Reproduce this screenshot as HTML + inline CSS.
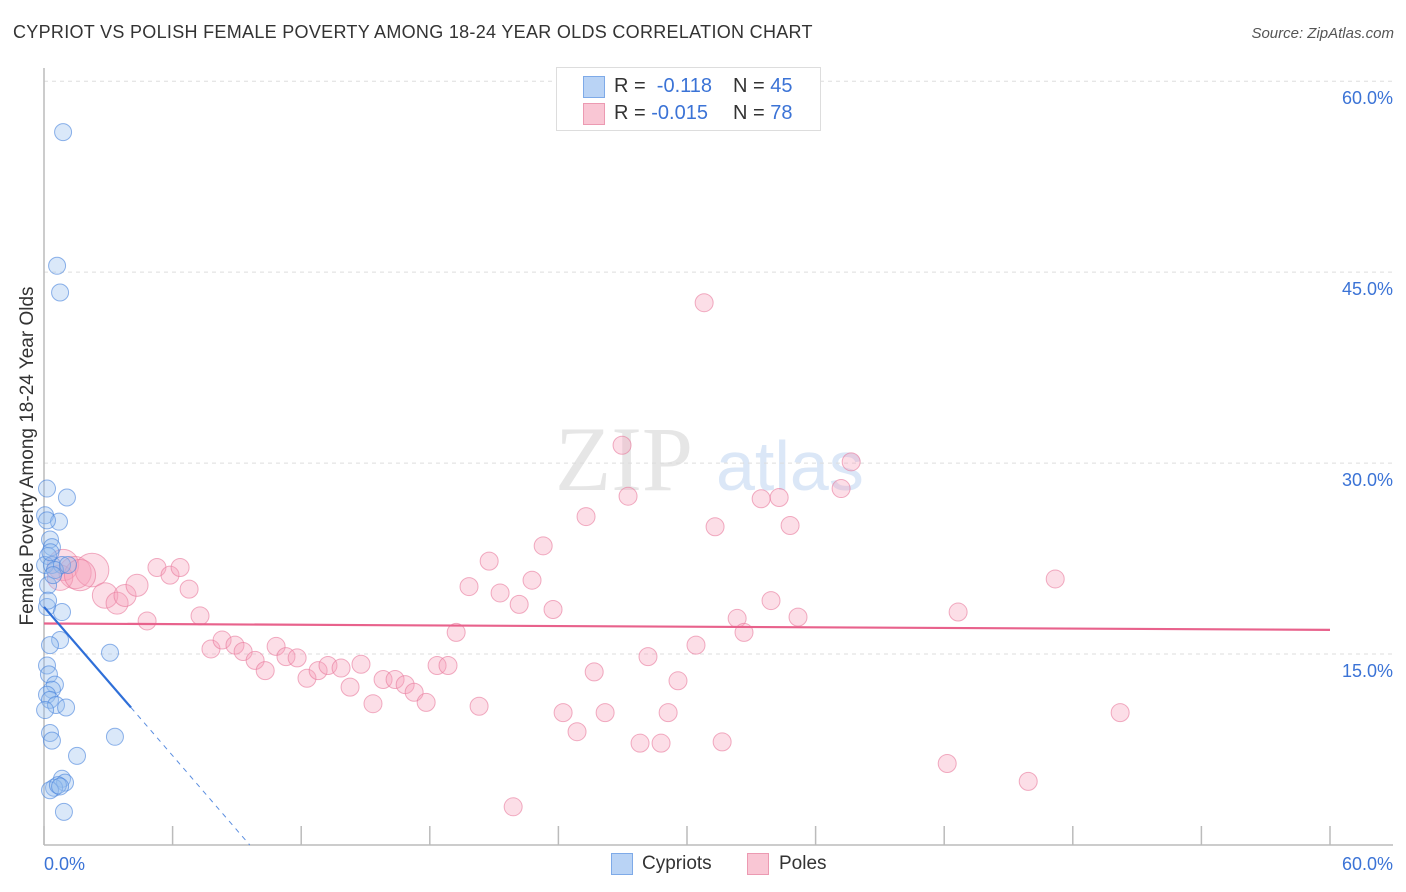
<!DOCTYPE html>
<html><head><meta charset="utf-8">
<style>
body{margin:0;background:#fff;font-family:"Liberation Sans",sans-serif;}
#wrap{position:relative;width:1406px;height:892px;overflow:hidden;}
.t{position:absolute;white-space:nowrap;}
</style></head>
<body>
<div id="wrap">
<div class="t" style="left:13px;top:22px;font-size:18px;color:#333;letter-spacing:0.3px">CYPRIOT VS POLISH FEMALE POVERTY AMONG 18-24 YEAR OLDS CORRELATION CHART</div>
<div class="t" style="right:12px;top:25px;font-size:15px;color:#555;font-style:italic">Source: ZipAtlas.com</div>
<div class="t" style="left:28px;top:456px;font-size:19px;color:#333;transform:translate(-50%,-50%) rotate(-90deg)">Female Poverty Among 18-24 Year Olds</div>
<svg id="plot" width="1406" height="892" style="position:absolute;left:0;top:0"></svg>
<div style="position:absolute;left:556px;top:67px;width:263px;height:62px;border:1px solid #ddd;background:#fff">
 <div style="position:absolute;left:26px;top:8px;width:20px;height:20px;background:#b9d3f5;border:1px solid #7eaae8"></div>
 <div style="position:absolute;left:26px;top:35px;width:20px;height:20px;background:#f9c6d4;border:1px solid #ec9ab2"></div>
 <div class="t" style="left:57px;top:7px;font-size:20px;color:#333">R = &nbsp;<span style="color:#3b73d6">-0.118</span></div>
 <div class="t" style="left:176px;top:7px;font-size:20px;color:#333">N = <span style="color:#3b73d6">45</span></div>
 <div class="t" style="left:57px;top:34px;font-size:20px;color:#333">R = <span style="color:#3b73d6">-0.015</span></div>
 <div class="t" style="left:176px;top:34px;font-size:20px;color:#333">N = <span style="color:#3b73d6">78</span></div>
</div>
<div>
 <div style="position:absolute;left:611px;top:853px;width:20px;height:20px;background:#b9d3f5;border:1px solid #7eaae8"></div>
 <div class="t" style="left:642px;top:853px;font-size:19px;color:#333">Cypriots</div>
 <div style="position:absolute;left:747px;top:853px;width:20px;height:20px;background:#f9c6d4;border:1px solid #ec9ab2"></div>
 <div class="t" style="left:779px;top:853px;font-size:19px;color:#333">Poles</div>
</div>
</div>
<script>
const blueX=[0.89,0.61,0.75,0.14,1.07,0.05,0.70,0.28,0.37,0.19,0.05,0.37,0.84,0.51,0.19,0.14,0.84,0.75,0.28,0.14,0.23,0.51,0.37,0.14,0.28,0.56,1.03,3.08,3.31,0.28,0.37,1.54,0.84,0.98,0.47,0.28,0.65,0.93,0.14,0.19,0.05,0.42,0.75,1.12,0.3];
const blueY=[56.0,45.5,43.4,28.0,27.3,25.9,25.4,24.0,23.4,22.7,22.0,22.0,22.0,21.6,20.4,18.7,18.3,16.1,15.7,14.1,13.4,12.6,12.2,11.8,11.4,11.0,10.8,15.1,8.5,8.8,8.2,7.0,5.2,4.9,4.5,4.3,4.7,2.6,25.5,19.2,10.6,21.2,4.6,22.0,23.0];
const pinkX=[0.89,1.45,2.24,0.75,1.68,2.85,3.41,3.78,4.34,4.81,5.27,5.88,6.35,6.77,7.28,7.79,8.31,8.91,9.29,9.85,10.32,10.83,11.29,11.81,12.27,12.79,13.25,13.86,14.28,14.79,15.35,15.82,16.38,16.85,17.27,17.83,18.34,18.85,19.23,19.83,20.30,20.77,21.28,22.17,22.77,23.29,23.75,24.22,24.87,25.29,25.67,26.18,26.97,27.25,27.81,28.18,28.79,29.12,29.58,30.42,30.80,31.31,31.64,32.34,32.66,33.46,33.92,34.30,34.81,35.18,37.19,37.66,42.14,42.65,45.92,47.18,50.21,21.89];
const pinkY=[22.0,21.4,21.6,21.0,21.2,19.6,19.0,19.6,20.4,17.6,21.8,21.2,21.8,20.1,18.0,15.4,16.1,15.7,15.2,14.5,13.7,15.6,14.8,14.7,13.1,13.7,14.1,13.9,12.4,14.2,11.1,13.0,13.0,12.6,12.0,11.2,14.1,14.1,16.7,20.3,10.9,22.3,19.8,18.9,20.8,23.5,18.5,10.4,8.9,25.8,13.6,10.4,31.4,27.4,8.0,14.8,8.0,10.4,12.9,15.7,42.6,25.0,8.1,17.8,16.7,27.2,19.2,27.3,25.1,17.9,28.0,30.1,6.4,18.3,5.0,20.9,10.4,3.0];
const pinkW=[3,3.2,3.5,2,3,2,1.5,1.5,1.5,1,1,1,1,1,1,1,1,1,1,1,1,1,1,1,1,1,1,1,1,1,1,1,1,1,1,1,1,1,1,1,1,1,1,1,1,1,1,1,1,1,1,1,1,1,1,1,1,1,1,1,1,1,1,1,1,1,1,1,1,1,1,1,1,1,1,1,1,1];
const yTicks=[15,30,45,60];
const xTicks=[0,6,12,18,24,30,36,42,48,54,60];
const pinkTrend=[[0,17.4],[60,16.9]];
const blueTrendSolid=[[0,18.7],[4.06,10.8]];
const blueTrendDash=[[4.06,10.8],[9.6,0]];

const X0=44,X1=1330,Y0=845,Ypx=12.73;
const sx=v=>X0+(X1-X0)*v/60;
const sy=v=>Y0-v*Ypx;
const svg=document.getElementById('plot');
const NS='http://www.w3.org/2000/svg';
function mk(tag,attrs){const e=document.createElementNS(NS,tag);for(const k in attrs)e.setAttribute(k,attrs[k]);svg.appendChild(e);return e;}

let wm=mk('text',{x:555,y:490,'font-size':92,'font-family':'Liberation Serif,serif',fill:'#e6e6e6'});wm.textContent='ZIP';


let wm2=mk('text',{x:716,y:490,'font-size':70,'font-family':'Liberation Sans,sans-serif',fill:'#dbe7f7'});wm2.textContent='atlas';



yTicks.forEach(v=>{
 const g=mk('line',{x1:X0,x2:1393,y1:sy(v),y2:sy(v),stroke:'#ddd','stroke-dasharray':'4,4'});
 
 
 const t=mk('text',{x:1393,y:sy(v)+23,'text-anchor':'end','font-size':18,fill:'#3b73d6','font-family':'Liberation Sans,sans-serif'});
 t.textContent=v.toFixed(1)+'%';
 
 
});
const ax=mk('line',{x1:X0,x2:1393,y1:Y0,y2:Y0,stroke:'#bbb','stroke-width':1.5});


const ay=mk('line',{x1:X0,x2:X0,y1:68,y2:Y0,stroke:'#bbb','stroke-width':1.5});


xTicks.forEach(v=>{
 const l=mk('line',{x1:sx(v),x2:sx(v),y1:826,y2:Y0,stroke:'#bbb','stroke-width':1.5});
 
 
});
[[0,'start',44],[60,'end',1393]].forEach(([v,a,x])=>{
 const t=mk('text',{x:x,y:870,'text-anchor':a,'font-size':18,fill:'#3b73d6','font-family':'Liberation Sans,sans-serif'});
 t.textContent=v.toFixed(1)+'%';
 
 
});

pinkX.forEach((x,i)=>{
 const c=mk('circle',{cx:sx(x),cy:sy(pinkY[i]),r:9*Math.sqrt(pinkW[i]),fill:'rgba(245,160,185,0.35)',stroke:'rgba(232,120,155,0.6)','stroke-width':1});
 
 
});
blueX.forEach((x,i)=>{
 const c=mk('circle',{cx:sx(x),cy:sy(blueY[i]),r:8.5,fill:'rgba(150,188,238,0.35)',stroke:'rgba(70,130,220,0.6)','stroke-width':1});
 
 
});
const pt=mk('line',{x1:sx(pinkTrend[0][0]),y1:sy(pinkTrend[0][1]),x2:sx(pinkTrend[1][0]),y2:sy(pinkTrend[1][1]),stroke:'#e8628c','stroke-width':2.2});


const bt=mk('line',{x1:sx(blueTrendSolid[0][0]),y1:sy(blueTrendSolid[0][1]),x2:sx(blueTrendSolid[1][0]),y2:sy(blueTrendSolid[1][1]),stroke:'#2f6fd8','stroke-width':2.2});


const bd=mk('line',{x1:sx(blueTrendDash[0][0]),y1:sy(blueTrendDash[0][1]),x2:sx(blueTrendDash[1][0]),y2:sy(blueTrendDash[1][1]),stroke:'#5b8ee0','stroke-width':1,'stroke-dasharray':'5,5'});


</script>
</body></html>
